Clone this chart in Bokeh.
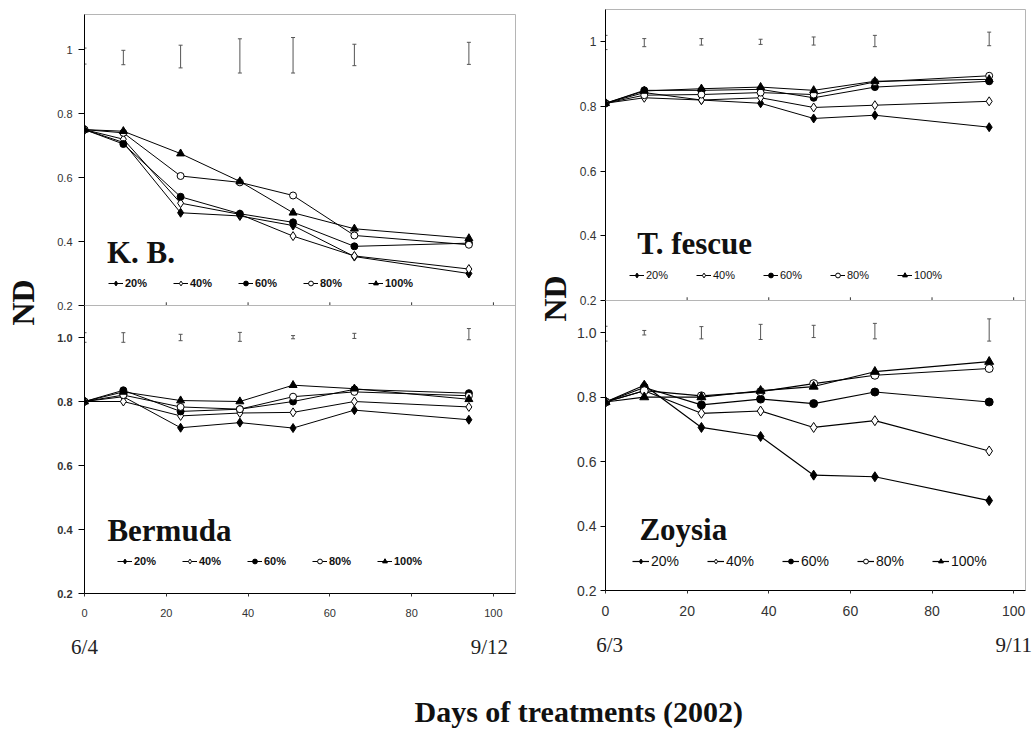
from math import pi
from bokeh.plotting import figure
from bokeh.layouts import row, column
from bokeh.models import Range1d, FixedTicker, LinearAxis, Legend, LegendItem, NumeralTickFormatter, Span
from bokeh.core.properties import value
from bokeh.embed import file_html
from bokeh.resources import INLINE

# ---------------- data ----------------
days = [0, 9.5, 23.5, 38, 51, 66, 94]
levels = ["20%", "40%", "60%", "80%", "100%"]

kb_20 = [0.75, 0.71, 0.49, 0.48, 0.45, 0.353, 0.30]
kb_40 = [0.75, 0.72, 0.52, 0.485, 0.417, 0.355, 0.314]
kb_60 = [0.75, 0.705, 0.54, 0.487, 0.46, 0.385, 0.395]
kb_80 = [0.75, 0.74, 0.605, 0.585, 0.544, 0.419, 0.39]
kb_100 = [0.75, 0.745, 0.675, 0.588, 0.49, 0.44, 0.41]
kb_err_lo = [0.955, 0.953, 0.943, 0.927, 0.927, 0.95, 0.954]
kb_err_hi = [1.005, 0.998, 1.014, 1.034, 1.038, 1.017, 1.023]

tf_20 = [0.81, 0.843, 0.82, 0.81, 0.763, 0.773, 0.736]
tf_40 = [0.81, 0.827, 0.82, 0.827, 0.797, 0.804, 0.816]
tf_60 = [0.81, 0.85, 0.85, 0.853, 0.827, 0.86, 0.878]
tf_80 = [0.81, 0.835, 0.837, 0.843, 0.837, 0.876, 0.895]
tf_100 = [0.81, 0.848, 0.855, 0.86, 0.85, 0.878, 0.884]
tf_err_lo = [0.976, 0.985, 0.99, 0.992, 0.99, 0.985, 0.988]
tf_err_hi = [1.02, 1.01, 1.01, 1.008, 1.015, 1.02, 1.03]

be_20 = [0.80, 0.815, 0.718, 0.734, 0.717, 0.773, 0.743]
be_40 = [0.80, 0.80, 0.755, 0.764, 0.766, 0.80, 0.783]
be_60 = [0.80, 0.835, 0.769, 0.776, 0.80, 0.838, 0.826]
be_80 = [0.80, 0.82, 0.783, 0.776, 0.815, 0.83, 0.818]
be_100 = [0.80, 0.83, 0.803, 0.80, 0.851, 0.84, 0.807]
be_err_lo = [0.985, 0.985, 0.99, 0.988, 0.996, 0.997, 0.993]
be_err_hi = [1.015, 1.015, 1.01, 1.016, 1.006, 1.013, 1.028]

zo_20 = [0.785, 0.837, 0.706, 0.678, 0.558, 0.553, 0.479]
zo_40 = [0.785, 0.82, 0.75, 0.757, 0.706, 0.727, 0.633]
zo_60 = [0.785, 0.83, 0.776, 0.794, 0.78, 0.816, 0.785]
zo_80 = [0.785, 0.82, 0.804, 0.817, 0.842, 0.868, 0.889]
zo_100 = [0.785, 0.80, 0.80, 0.82, 0.833, 0.879, 0.91]
zo_err_lo = [0.974, 0.993, 0.981, 0.979, 0.985, 0.981, 0.974]
zo_err_hi = [1.02, 1.007, 1.019, 1.026, 1.023, 1.029, 1.043]

x_ticks = [0, 20, 40, 60, 80, 100]
y_ticks = [0.2, 0.4, 0.6, 0.8, 1.0]
left_date_ticks = [0, 99]
left_date_labels = ["6/4", "9/12"]
right_date_ticks = [1, 100]
right_date_labels = ["6/3", "9/11"]

panel_titles = ["K. B.", "T. fescue", "Bermuda", "Zoysia"]
y_label = "ND"
x_label = "Days of treatments (2002)"

MARKERS = {
    "20%": ("diamond", "black", 9),
    "40%": ("diamond", "white", 9),
    "60%": ("circle", "black", 7),
    "80%": ("circle", "white", 7),
    "100%": ("triangle", "black", 8),
}

SANS = "Liberation Sans"
SERIF = "Liberation Serif"


def make_panel(series, err_lo, err_hi, title, c):
    p = figure(width=c["w"], height=c["h"],
               x_range=Range1d(0, c["xend"]), y_range=Range1d(0.2, c["yend"]),
               toolbar_location=None, output_backend="svg",
               min_border_left=c["bl"], min_border_right=c["br"],
               min_border_top=c["bt"], min_border_bottom=c["bb"])
    p.grid.visible = False
    p.outline_line_color = "#b5b5b5"
    p.outline_line_width = 1
    if c["bottom"]:
        # transparent so that the panel above shows through the overlap
        p.background_fill_alpha = 0
        p.border_fill_alpha = 0
        p.margin = (-8, 0, 0, 0)
    else:
        p.background_fill_color = "white"
        p.border_fill_color = "white"

    # error bars
    p.segment(x0=days, y0=err_lo, x1=days, y1=err_hi, line_color="#555555", line_width=1)
    p.scatter(days, err_lo, marker="dash", size=4, line_color="#555555", line_width=1)
    p.scatter(days, err_hi, marker="dash", size=4, line_color="#555555", line_width=1)

    items = []
    ms = c.get("ms", 0)
    for lvl, vals in zip(levels, series):
        mk, fill, size = MARKERS[lvl]
        rl = p.line(days, vals, line_color="black", line_width=c["lw"])
        rs = p.scatter(days, vals, marker=mk, size=size + ms, fill_color=fill,
                       line_color="black", line_width=1)
        items.append(LegendItem(label=lvl, renderers=[rl, rs]))

    leg = Legend(items=items, orientation="horizontal", location=c["leg_loc"],
                 padding=0, margin=0, spacing=c["leg_sp"], glyph_width=c["leg_gw"],
                 glyph_height=12, label_height=12, label_width=c["leg_lw"],
                 label_standoff=2, background_fill_alpha=0, border_line_color=None,
                 label_text_font=SANS, label_text_font_size=c["leg_fs"],
                 label_text_font_style=c["leg_style"], label_text_color="#111111")
    p.add_layout(leg)

    p.text(x=[c["tx"]], y=[c["ty"]], text=[title], text_font=value(SERIF),
           text_font_style="bold", text_font_size="31px", text_color="#111111",
           text_baseline="alphabetic", text_align="left")

    # y axis
    ya = p.yaxis[0]
    ya.ticker = FixedTicker(ticks=y_ticks)
    ya.formatter = NumeralTickFormatter(format=c["yfmt"])
    ya.axis_line_color = "black"
    ya.major_tick_line_color = "black"
    ya.major_tick_out = c["ytick"]
    ya.major_tick_in = 0
    ya.minor_tick_line_color = None
    ya.major_label_standoff = c.get("ystand", 6)
    ya.major_label_text_font = SANS
    ya.major_label_text_font_size = c["yfs"]
    ya.major_label_text_font_style = c["ystyle"]
    ya.major_label_text_color = "#333333"

    # x axis
    xa = p.xaxis[0]
    if c["bottom"]:
        xa.ticker = FixedTicker(ticks=x_ticks)
        xa.axis_line_color = "black"
        xa.minor_tick_line_color = None
        xa.major_tick_line_color = "#333333"
        xa.major_tick_out = 3
        xa.major_tick_in = 0
        xa.major_label_standoff = c["xstand"]
        xa.major_label_text_font = SANS
        xa.major_label_text_font_size = c["xfs"]
        xa.major_label_text_font_style = c["xstyle"]
        xa.major_label_text_color = "#333333"
        dticks, dlabels = c["dates"]
        da = LinearAxis(ticker=FixedTicker(ticks=dticks),
                        major_label_overrides=dict(zip(dticks, dlabels)))
        da.axis_line_color = None
        da.major_tick_line_color = None
        da.minor_tick_line_color = None
        da.major_label_standoff = c["dstand"]
        da.major_label_text_font = SERIF
        da.major_label_text_font_size = "21px"
        da.major_label_text_color = "#222222"
        p.add_layout(da, "below")
    else:
        # unlabeled bottom axis of the upper panels: a line with small inward ticks
        xa.visible = False
        p.add_layout(Span(location=0.2, dimension="width", line_color="black", line_width=1))
        p.segment(x0=x_ticks, y0=[0.2] * len(x_ticks), x1=x_ticks,
                  y1=[0.21] * len(x_ticks), line_color="#333333", line_width=1)
    return p


common_left = dict(w=470, bl=34, br=5, xend=105.4, ytick=6, lw=1)
common_right = dict(w=460, bl=29, br=9, xend=102.9, ytick=5, lw=1, ystand=4)

tl = make_panel([kb_20, kb_40, kb_60, kb_80, kb_100], kb_err_lo, kb_err_hi, panel_titles[0],
                dict(common_left, h=313, bt=14, bb=8, yend=1.11, yfmt="0.[0]", yfs="11px",
                     ystyle="normal", bottom=False, leg_loc=(24, 16), leg_sp=3, leg_gw=15,
                     leg_lw=45, leg_fs="11px", leg_style="bold", tx=5.5, ty=0.367))
bl = make_panel([be_20, be_40, be_60, be_80, be_100], be_err_lo, be_err_hi, panel_titles[2],
                dict(common_left, h=365, bt=0, bb=77, yend=1.1, yfmt="0.0", yfs="11px",
                     ystyle="bold", bottom=True, xstand=12, xfs="11px", xstyle="normal",
                     dates=(left_date_ticks, left_date_labels), dstand=9,
                     leg_loc=(33, 26), leg_sp=3, leg_gw=15, leg_lw=45, leg_fs="11px",
                     leg_style="bold", tx=5.6, ty=0.398))
tr = make_panel([tf_20, tf_40, tf_60, tf_80, tf_100], tf_err_lo, tf_err_hi, panel_titles[1],
                dict(common_right, h=308, bt=9, bb=8, yend=1.1, yfmt="0.[0]", yfs="12px",
                     ystyle="normal", bottom=False, leg_loc=(24, 19), leg_sp=3, leg_gw=15,
                     leg_lw=47, leg_fs="11px", leg_style="normal", tx=7.8, ty=0.375))
br = make_panel([zo_20, zo_40, zo_60, zo_80, zo_100], zo_err_lo, zo_err_hi, panel_titles[3],
                dict(common_right, h=370, bt=0, bb=80, yend=1.1, yfmt="0.0", yfs="14px",
                     ystyle="normal", bottom=True, xstand=12, xfs="14px", xstyle="normal",
                     dates=(right_date_ticks, right_date_labels), dstand=8,
                     leg_loc=(27, 21), leg_sp=3, leg_gw=17, leg_lw=53, leg_fs="14px",
                     leg_style="normal", tx=8.3, ty=0.388, lw=1.2, ms=1))


def label_fig(w, h, x, y, txt, angle=0.0, size="32px", align="center"):
    f = figure(width=w, height=h, x_range=Range1d(0, w), y_range=Range1d(0, h),
               toolbar_location=None, output_backend="svg", min_border=0)
    f.axis.visible = False
    f.grid.visible = False
    f.outline_line_color = None
    f.text(x=[x], y=[y], text=[txt], angle=angle, text_font=value(SERIF),
           text_font_style="bold", text_font_size=size, text_color="#111111",
           text_align=align, text_baseline="middle")
    return f


nd_left = label_fig(50, 670, 22, 368, y_label, angle=pi / 2)
nd_right = label_fig(54, 670, 34, 372, y_label, angle=pi / 2)
bottom = label_fig(1034, 60, 414, 19, x_label, size="30px", align="left")

layout = column(row(nd_left, column(tl, bl), nd_right, column(tr, br)), bottom)

open("out.html", "w").write(file_html(layout, INLINE))
